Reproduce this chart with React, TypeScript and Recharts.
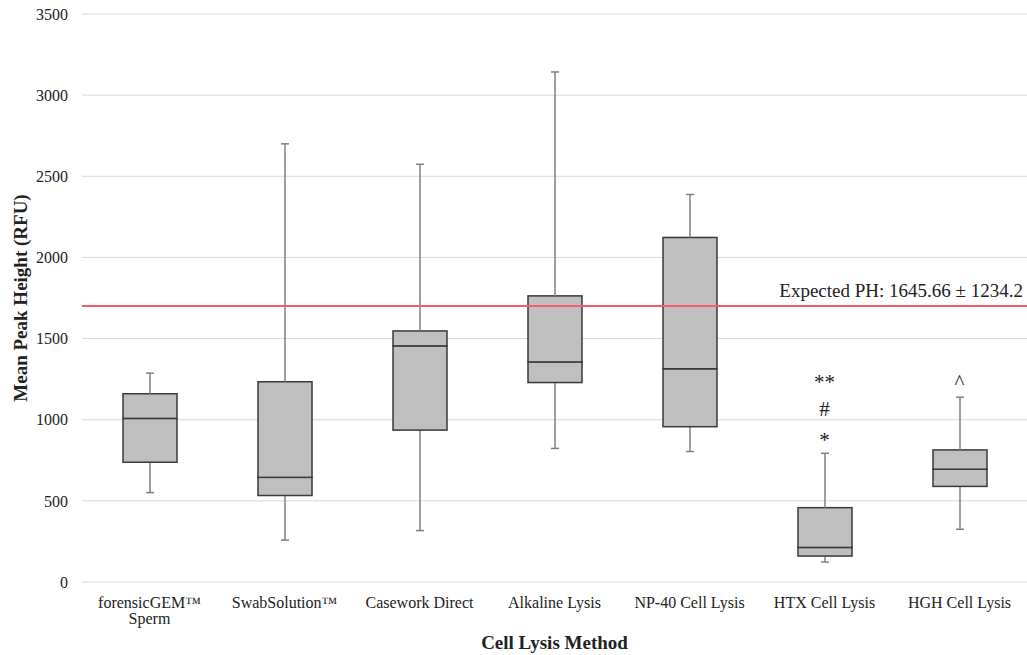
import React from 'react';
import {
  ComposedChart,
  Bar,
  XAxis,
  YAxis,
  CartesianGrid,
  ReferenceLine,
  ReferenceDot,
  Label,
} from 'recharts';

const categories = [
  'forensicGEM™ Sperm',
  'SwabSolution™',
  'Casework Direct',
  'Alkaline Lysis',
  'NP-40 Cell Lysis',
  'HTX Cell Lysis',
  'HGH Cell Lysis',
];
const minValues = [551, 258, 317, 823, 804, 123, 325];
const q1Values = [738, 533, 936, 1229, 957, 160, 589];
const medianValues = [1008, 645, 1455, 1356, 1314, 213, 695];
const q3Values = [1160, 1234, 1547, 1763, 2123, 458, 814];
const maxValues = [1287, 2700, 2574, 3143, 2388, 793, 1139];

const yTicks = [0, 500, 1000, 1500, 2000, 2500, 3000, 3500];
const expectedValue = 1700;
const expectedText = 'Expected PH: 1645.66 ± 1234.2';

// significance marks above the boxes
const markCategories = ['HTX Cell Lysis', 'HTX Cell Lysis', 'HTX Cell Lysis', 'HGH Cell Lysis'];
const markValues = [1247, 1063, 890, 1247];
const markTexts = ['**', '#', '*', '^'];

const FONT = '"Liberation Serif", "Times New Roman", serif';
const WIDTH = 1027;
const HEIGHT = 655;

const data = categories.map((name, i) => ({
  name,
  base: minValues[i],
  whiskerLow: q1Values[i] - minValues[i],
  boxLow: medianValues[i] - q1Values[i],
  boxHigh: q3Values[i] - medianValues[i],
  whiskerHigh: maxValues[i] - q3Values[i],
}));

const WHISKER = '#808080';
const BOX_FILL = '#bfbfbf';
const BOX_STROKE = '#3a3a3a';

const Empty = () => <g />;

const LowWhisker = (props: any) => {
  const { x, y, width, height } = props;
  const cx = x + width / 2;
  return (
    <g>
      <line x1={cx} x2={cx} y1={y} y2={y + height} stroke={WHISKER} strokeWidth={1.5} />
      <line x1={cx - 4} x2={cx + 4} y1={y + height} y2={y + height} stroke={WHISKER} strokeWidth={1.5} />
    </g>
  );
};

const HighWhisker = (props: any) => {
  const { x, y, width, height } = props;
  const cx = x + width / 2;
  return (
    <g>
      <line x1={cx} x2={cx} y1={y} y2={y + height} stroke={WHISKER} strokeWidth={1.5} />
      <line x1={cx - 4} x2={cx + 4} y1={y} y2={y} stroke={WHISKER} strokeWidth={1.5} />
    </g>
  );
};

const BoxPart = (props: any) => {
  const { x, y, width, height } = props;
  return <rect x={x} y={y} width={width} height={height} fill={BOX_FILL} stroke={BOX_STROKE} strokeWidth={1.5} />;
};

const CategoryTick = (props: any) => {
  const { x, y, payload } = props;
  const value: string = payload.value;
  const lines = value.includes('™ ') ? value.split(/(?<=™) /) : [value];
  return (
    <text x={x} y={y} textAnchor="middle" fontSize={16} fontFamily={FONT} fill="#222">
      {lines.map((line, i) => (
        <tspan key={i} x={x} dy={i === 0 ? 18 : 16}>
          {line}
        </tspan>
      ))}
    </text>
  );
};

const MarkShape = (text: string) => (props: any) => {
  const { cx, cy } = props;
  const shift = text === '#' ? 7 : 9;
  return (
    <text x={cx} y={cy + shift} textAnchor="middle" fontSize={21} fontFamily={FONT} fill="#222">
      {text}
    </text>
  );
};

export default function App() {
  return (
    <div style={{ position: 'absolute', left: 0, top: 0, background: '#fff' }}>
      <ComposedChart
        width={WIDTH}
        height={HEIGHT}
        data={data}
        margin={{ top: 14, right: 0, left: 0, bottom: 0 }}
        barSize={54}
      >
        <CartesianGrid vertical={false} stroke="#d9d9d9" />
        <XAxis
          dataKey="name"
          height={73}
          axisLine={false}
          tickLine={false}
          tick={<CategoryTick />}
          interval={0}
        >
          <Label
            content={() => (
              <text
                x={82 + (WIDTH - 82) / 2}
                y={649}
                textAnchor="middle"
                fontSize={19}
                fontWeight="bold"
                fontFamily={FONT}
                fill="#222"
              >
                Cell Lysis Method
              </text>
            )}
          />
        </XAxis>
        <YAxis
          width={82}
          domain={[0, 3500]}
          ticks={yTicks}
          axisLine={false}
          tickLine={false}
          tickSize={6}
          tickMargin={8}
          tick={{ fontSize: 16, fontFamily: FONT, fill: '#222' }}
        >
          <Label
            content={() => (
              <text
                x={27}
                y={298}
                transform="rotate(-90, 27, 298)"
                textAnchor="middle"
                fontSize={19}
                fontWeight="bold"
                fontFamily={FONT}
                fill="#222"
              >
                Mean Peak Height (RFU)
              </text>
            )}
          />
        </YAxis>
        <Bar dataKey="base" stackId="box" shape={<Empty />} isAnimationActive={false} />
        <Bar dataKey="whiskerLow" stackId="box" shape={<LowWhisker />} isAnimationActive={false} />
        <Bar dataKey="boxLow" stackId="box" shape={<BoxPart />} isAnimationActive={false} />
        <Bar dataKey="boxHigh" stackId="box" shape={<BoxPart />} isAnimationActive={false} />
        <Bar dataKey="whiskerHigh" stackId="box" shape={<HighWhisker />} isAnimationActive={false} />
        <ReferenceLine
          y={expectedValue}
          stroke="#f55d6d"
          strokeWidth={2}
          label={(props: any) => {
            const vb = props.viewBox || { x: 82, y: 306, width: WIDTH - 82 };
            return (
              <text
                x={vb.x + vb.width - 4}
                y={vb.y - 9}
                textAnchor="end"
                fontSize={19}
                fontFamily={FONT}
                fill="#222"
              >
                {expectedText}
              </text>
            );
          }}
        />
        {markTexts.map((text, i) => (
          <ReferenceDot
            key={i}
            x={markCategories[i]}
            y={markValues[i]}
            r={0}
            shape={MarkShape(text)}
          />
        ))}
      </ComposedChart>
    </div>
  );
}
